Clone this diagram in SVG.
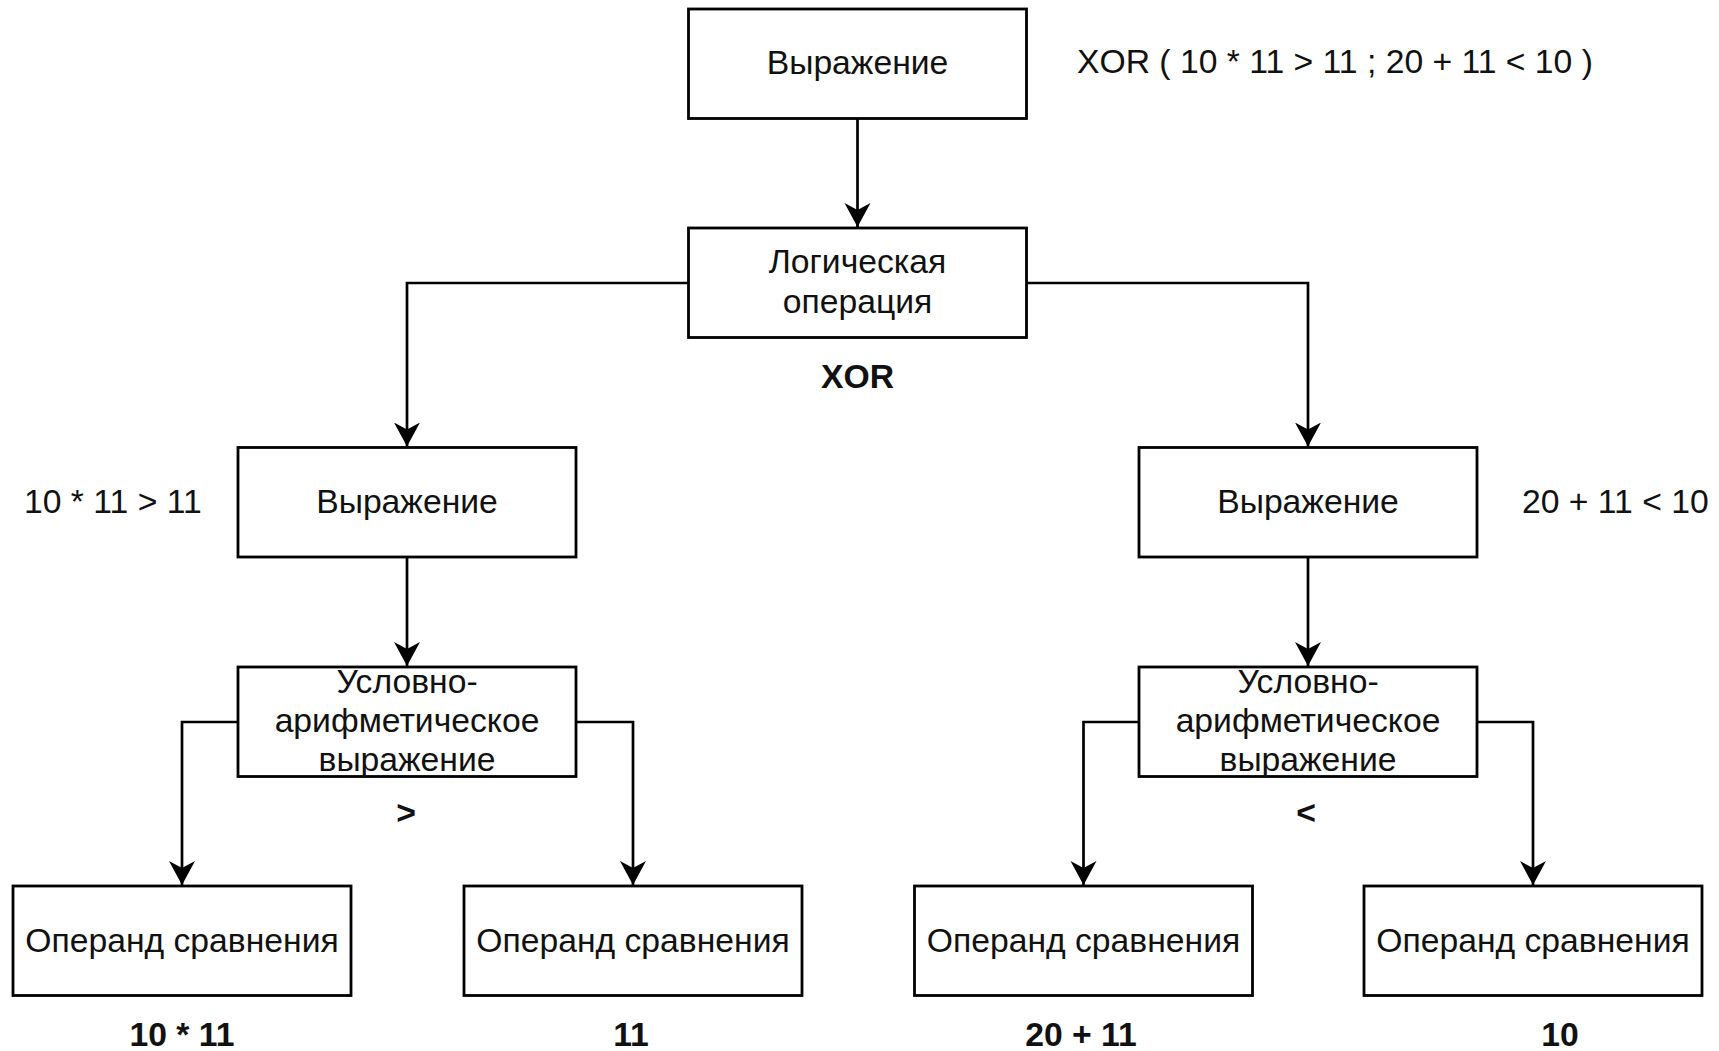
<svg xmlns="http://www.w3.org/2000/svg" width="1719" height="1051" viewBox="0 0 1719 1051">
  <style>
    .box { fill: #ffffff; stroke: #000000; stroke-width: 2.8; }
    .edge { fill: none; stroke: #000000; stroke-width: 2.7; }
    text { font-family: "Liberation Sans", Arial, Helvetica, sans-serif; font-size: 33.7px; fill: #111111; }
    .c { text-anchor: middle; }
    .b { font-weight: bold; }
  </style>
  <defs>
    <!-- classic notched arrowhead, tip at the end of the path -->
    <marker id="arrow" markerUnits="userSpaceOnUse" markerWidth="26" markerHeight="28" refX="24" refY="13" orient="auto">
      <path d="M0,0 L24,13 L0,26 L7,13 Z" fill="#000000"/>
    </marker>
  </defs>

  <rect width="1719" height="1051" fill="#ffffff"/>

  <!-- connectors -->
  <g id="edges">
    <path class="edge" d="M857.5 118.5 V227" marker-end="url(#arrow)"/>
    <path class="edge" d="M688.5 283 H407 V446.5" marker-end="url(#arrow)"/>
    <path class="edge" d="M1026.5 283 H1308 V446.5" marker-end="url(#arrow)"/>
    <path class="edge" d="M407 557 V666" marker-end="url(#arrow)"/>
    <path class="edge" d="M1308 557 V666" marker-end="url(#arrow)"/>
    <path class="edge" d="M238 722 H182 V885" marker-end="url(#arrow)"/>
    <path class="edge" d="M576 722 H633 V885" marker-end="url(#arrow)"/>
    <path class="edge" d="M1139 722 H1083.5 V885" marker-end="url(#arrow)"/>
    <path class="edge" d="M1477 722 H1533 V885" marker-end="url(#arrow)"/>
  </g>

  <!-- root expression -->
  <g id="root">
    <rect class="box" x="688.5" y="9" width="338" height="109.5"/>
    <text class="c" x="857.5" y="74">Выражение</text>
    <text x="1077" y="73">XOR ( 10 * 11 &gt; 11 ; 20 + 11 &lt; 10 )</text>
  </g>

  <!-- logical operation -->
  <g id="logic">
    <rect class="box" x="688.5" y="228" width="338" height="109.5"/>
    <text class="c" x="857.5" y="273">Логическая</text>
    <text class="c" x="857.5" y="313">операция</text>
    <text class="c b" x="857.5" y="388">XOR</text>
  </g>

  <!-- left branch -->
  <g id="expr-left">
    <rect class="box" x="238" y="447.5" width="338" height="109.5"/>
    <text class="c" x="407" y="513">Выражение</text>
    <text x="24" y="513">10 * 11 &gt; 11</text>
  </g>
  <g id="cond-left">
    <rect class="box" x="238" y="667" width="338" height="109.5"/>
    <text class="c" x="407" y="693">Условно-</text>
    <text class="c" x="407" y="732">арифметическое</text>
    <text class="c" x="407" y="771">выражение</text>
    <text class="c b" x="406" y="824">&gt;</text>
  </g>
  <g id="operand-1">
    <rect class="box" x="13" y="886" width="338" height="109.5"/>
    <text class="c" x="182" y="952">Операнд сравнения</text>
    <text class="c b" x="182" y="1046">10 * 11</text>
  </g>
  <g id="operand-2">
    <rect class="box" x="464" y="886" width="338" height="109.5"/>
    <text class="c" x="633" y="952">Операнд сравнения</text>
    <text class="c b" x="631" y="1046">11</text>
  </g>

  <!-- right branch -->
  <g id="expr-right">
    <rect class="box" x="1139" y="447.5" width="338" height="109.5"/>
    <text class="c" x="1308" y="513">Выражение</text>
    <text x="1522" y="513">20 + 11 &lt; 10</text>
  </g>
  <g id="cond-right">
    <rect class="box" x="1139" y="667" width="338" height="109.5"/>
    <text class="c" x="1308" y="693">Условно-</text>
    <text class="c" x="1308" y="732">арифметическое</text>
    <text class="c" x="1308" y="771">выражение</text>
    <text class="c b" x="1306" y="824">&lt;</text>
  </g>
  <g id="operand-3">
    <rect class="box" x="914.5" y="886" width="338" height="109.5"/>
    <text class="c" x="1083.5" y="952">Операнд сравнения</text>
    <text class="c b" x="1081" y="1046">20 + 11</text>
  </g>
  <g id="operand-4">
    <rect class="box" x="1364" y="886" width="338" height="109.5"/>
    <text class="c" x="1533" y="952">Операнд сравнения</text>
    <text class="c b" x="1560" y="1046">10</text>
  </g>
</svg>
